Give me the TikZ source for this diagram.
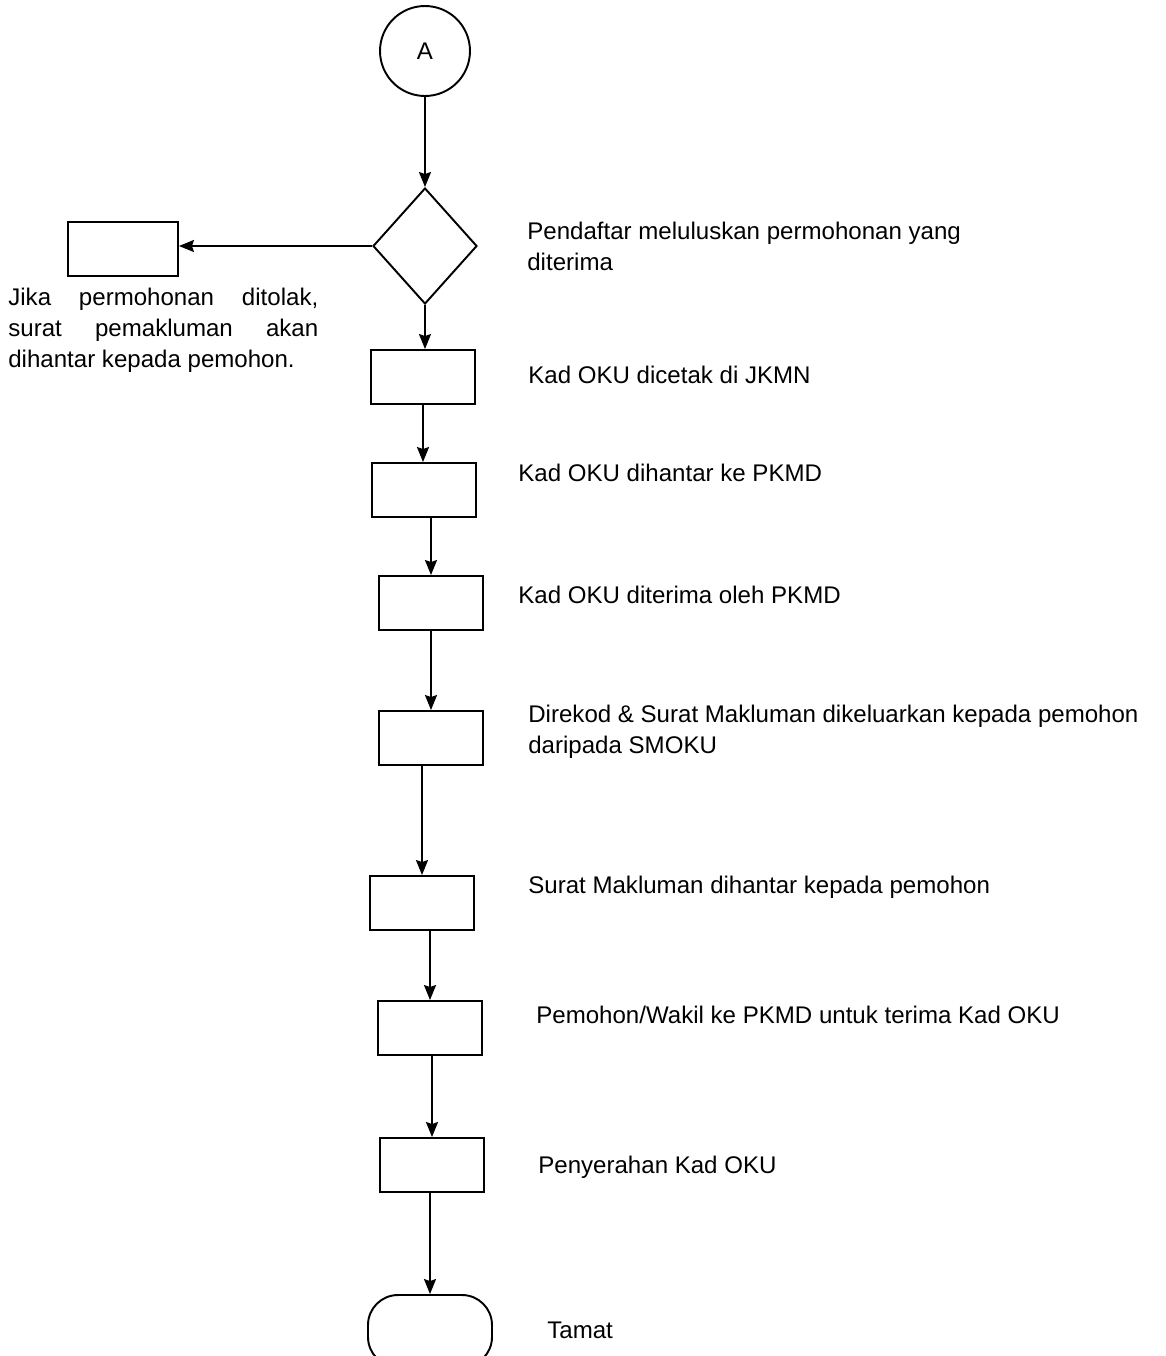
\documentclass[tikz,border=0pt]{standalone}
\usepackage{fontspec}
\setmainfont{Liberation Sans}
\usetikzlibrary{arrows.meta,shapes.geometric}
\tikzset{
  proc/.style={draw=black,line width=1.1pt,minimum width=2.08cm,minimum height=1.08cm,inner sep=0pt},
  decide/.style={diamond,draw=black,line width=1.1pt,minimum width=2.08cm,minimum height=2.32cm,inner sep=0pt},
  conn/.style={circle,draw=black,line width=1.1pt,minimum size=1.8cm,inner sep=0pt,font=\fontsize{13.7}{16}\selectfont},
  term/.style={draw=black,line width=1.1pt,rounded corners=0.6cm,minimum width=2.48cm,minimum height=1.44cm},
  note/.style={anchor=west,inner sep=0pt,align=left,font=\fontsize{13.7}{17.6}\selectfont},
  arr/.style={-{Stealth[length=3mm,width=2.4mm,inset=0.4mm]},draw=black,line width=1.1pt}
}
\begin{document}
\begin{tikzpicture}[x=0.02cm,y=-0.02cm]
  \useasboundingbox (0,0) rectangle (1166,1356);
  \node[conn] (start) at (425,51) {A};
  \node[decide] (check) at (425,246) {};
  \node[proc,minimum width=2.2cm] (reject) at (123,249) {};
  \node[proc] (print) at (423,377) {};
  \node[proc] (send) at (424,490) {};
  \node[proc] (receive) at (431,603) {};
  \node[proc] (record) at (431,738) {};
  \node[proc] (notify) at (422,903) {};
  \node[proc] (collect) at (430,1028) {};
  \node[proc] (handover) at (432,1165) {};
  \node[term] (finish) at (430,1331) {};

  \node[note] (checktxt) at (527,246) {Pendaftar meluluskan permohonan yang\\diterima};
  \node[note,text width=6.2cm,align=justify] (rejecttxt) at (8,330)
    {\hyphenpenalty=10000 \tolerance=10000 Jika permohonan ditolak, surat pemakluman akan dihantar kepada pemohon.};
  \node[note] (printtxt) at (528,375) {Kad OKU dicetak di JKMN};
  \node[note] (sendtxt) at (518,473) {Kad OKU dihantar ke PKMD};
  \node[note] (receivetxt) at (518,595) {Kad OKU diterima oleh PKMD};
  \node[note] (recordtxt) at (528,732) {Direkod \& Surat Makluman dikeluarkan kepada pemohon\\daripada SMOKU};
  \node[note] (notifytxt) at (528,887) {Surat Makluman dihantar kepada pemohon};
  \node[note] (collecttxt) at (536,1015) {Pemohon/Wakil ke PKMD untuk terima Kad OKU};
  \node[note] (handovertxt) at (538,1167) {Penyerahan Kad OKU};
  \node[note] (finishtxt) at (547,1330) {Tamat};

  \draw[arr] (start) -- (check);
  \draw[arr] (check.west) -- (check.west -| reject.east);
  \draw[arr] (check.south) -- (check.south |- print.north);
  \draw[arr] (print.south) -- (print.south |- send.north);
  \draw[arr] (send.south -| receive.north) -- (receive.north);
  \draw[arr] (receive) -- (record);
  \draw[arr] (record.south -| notify.north) -- (notify.north);
  \draw[arr] (notify.south -| collect.north) -- (collect.north);
  \draw[arr] (collect.south -| handover.north) -- (handover.north);
  \draw[arr] (handover.south -| finish.north) -- (finish.north);
\end{tikzpicture}
\end{document}
